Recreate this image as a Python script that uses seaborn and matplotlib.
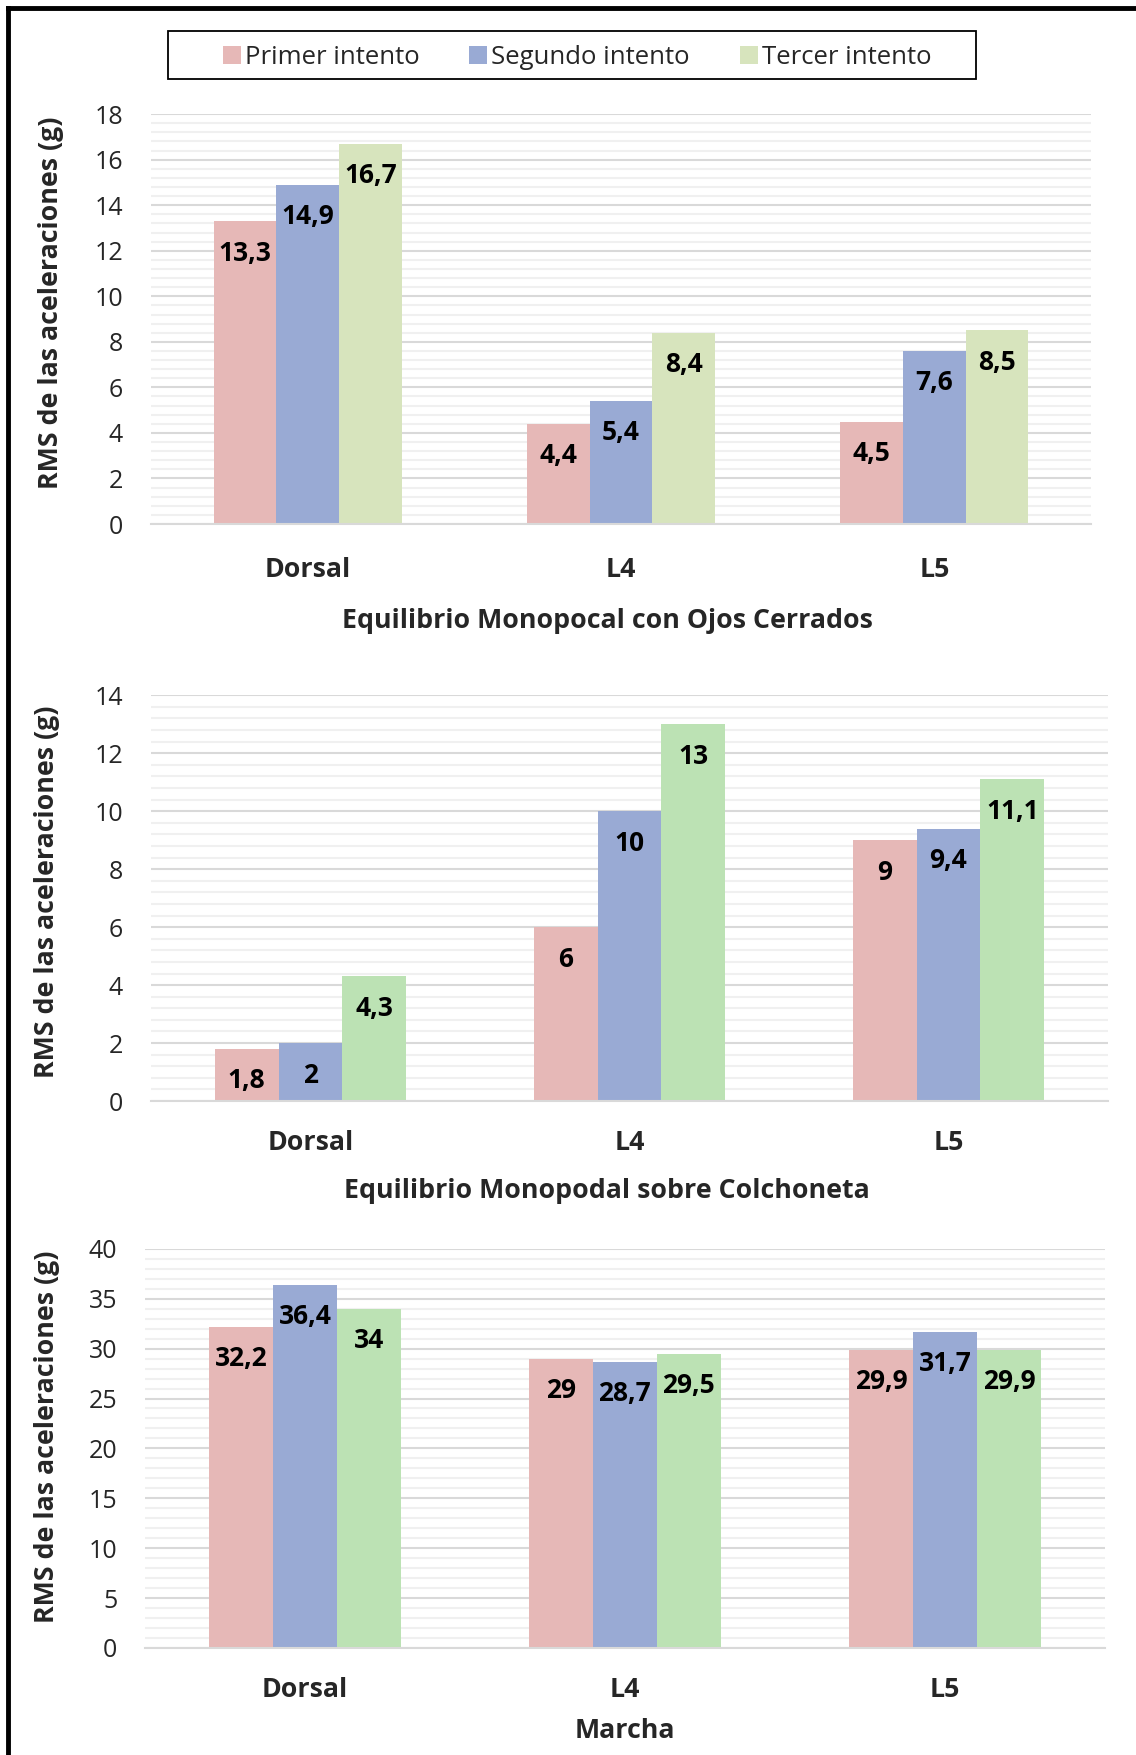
import matplotlib
matplotlib.use("Agg")
import seaborn as sns
import matplotlib.pyplot as plt
import numpy as np
import pandas as pd
from matplotlib.patches import Patch, Rectangle
from matplotlib.lines import Line2D
from matplotlib.ticker import MultipleLocator

# data
zonas = ["Dorsal", "L4", "L5"]
intentos = ["Primer intento", "Segundo intento", "Tercer intento"]

ojos_primer = [13.3, 4.4, 4.5]
ojos_segundo = [14.9, 5.4, 7.6]
ojos_tercer = [16.7, 8.4, 8.5]

colch_primer = [1.8, 6, 9]
colch_segundo = [2, 10, 9.4]
colch_tercer = [4.3, 13, 11.1]

marcha_primer = [32.2, 29, 29.9]
marcha_segundo = [36.4, 28.7, 31.7]
marcha_tercer = [34, 29.5, 29.9]

titulos = ["Equilibrio Monopocal con Ojos Cerrados",
           "Equilibrio Monopodal sobre Colchoneta",
           "Marcha"]

pink = "#E6B8B7"
blue = "#99AAD4"
green_light = "#D7E4BD"
green = "#BCE2B4"


def to_long(primer, segundo, tercer):
    rows = []
    for serie, vals in zip(intentos, [primer, segundo, tercer]):
        for z, v in zip(zonas, vals):
            rows.append({"zona": z, "intento": serie, "valor": v})
    return pd.DataFrame(rows)


def fmt(v):
    return f"{v:g}".replace(".", ",")


sns.set_style("white")
plt.rcParams["font.family"] = ["Open Sans", "DejaVu Sans"]

fig = plt.figure(figsize=(11.36, 17.55), dpi=100)

# df, palette, axes rect, ymax, major, minor, tick pad, title pad, title x, ylabel coords
panels = [
    (to_long(ojos_primer, ojos_segundo, ojos_tercer), [pink, blue, green_light],
     [0.1329, 0.7014, 0.8275, 0.2336], 18, 2, 0.4, 24, 18, 0.486, (-0.0926, 0.539)),
    (to_long(colch_primer, colch_segundo, colch_tercer), [pink, blue, green],
     [0.1329, 0.3726, 0.8424, 0.2313], 14, 2, 0.4, 21, 16, 0.4765, (-0.095, 0.515)),
    (to_long(marcha_primer, marcha_segundo, marcha_tercer), [pink, blue, green],
     [0.1276, 0.0610, 0.8450, 0.2274], 40, 5, 1, 21, 11, 0.5, (-0.089, 0.529)),
]

for i, (df, pal, pos, ymax, major, minor, tpad, lpad, tx, ylc) in enumerate(panels):
    ax = fig.add_axes(pos)
    sns.barplot(data=df, x="zona", y="valor", hue="intento", order=zonas,
                hue_order=intentos, palette=pal, saturation=1, width=0.6,
                linewidth=0, legend=False, ax=ax)
    ax.set_ylim(0, ymax)
    ax.set_xlim(-0.5, 2.5)
    ax.yaxis.set_major_locator(MultipleLocator(major))
    ax.yaxis.set_minor_locator(MultipleLocator(minor))
    ax.grid(True, which="major", axis="y", color="#D9D9D9", linewidth=1.5)
    ax.grid(True, which="minor", axis="y", color="#F0F0F0", linewidth=1.5)
    ax.set_axisbelow(True)
    for s in ["top", "right", "left"]:
        ax.spines[s].set_visible(False)
    ax.spines["bottom"].set_color("#D9D9D9")
    ax.spines["bottom"].set_linewidth(1.5)
    ax.tick_params(axis="both", which="both", length=0)
    ax.tick_params(axis="y", labelsize=18, pad=20)
    ax.tick_params(axis="x", labelsize=19.3, pad=tpad)
    for lab in ax.get_xticklabels():
        lab.set_fontweight("bold")
    ax.set_ylabel("RMS de las aceleraciones (g)", fontsize=19.3, fontweight="bold")
    ax.yaxis.set_label_coords(*ylc)
    ax.set_xlabel(titulos[i], fontsize=19.3, fontweight="bold", labelpad=lpad)
    ax.xaxis.label.set_x(tx)

    for cont in ax.containers:
        for p in cont:
            h = p.get_height()
            ax.annotate(fmt(h), (p.get_x() + p.get_width() / 2, h),
                        xytext=(0, -23), textcoords="offset points",
                        ha="center", va="center", fontsize=19, fontweight="bold",
                        color="black")

handles = [Patch(facecolor=c, edgecolor="none") for c in [pink, blue, green_light]]
leg = fig.legend(handles, intentos, loc="center", bbox_to_anchor=(0.508, 0.9673),
                 ncol=3, fontsize=18.5, frameon=False,
                 handlelength=0.7, handleheight=0.7, handletextpad=0.15,
                 columnspacing=1.94, borderpad=0.3, borderaxespad=0)

# legend box, drawn separately because it is wider than its entries
fig.add_artist(Rectangle((0.1479, 0.955), 0.7113, 0.02735, transform=fig.transFigure,
                         fill=False, edgecolor="black", linewidth=1.3))

# outer frame: only the left and top edges show in the reference
fig.add_artist(Line2D([0.007, 0.007], [0, 0.9957], transform=fig.transFigure,
                      color="black", linewidth=3.5, solid_capstyle="projecting"))
fig.add_artist(Line2D([0.007, 1], [0.9957, 0.9957], transform=fig.transFigure,
                      color="black", linewidth=3.5, solid_capstyle="projecting"))

fig.savefig("out.png", dpi=100)
